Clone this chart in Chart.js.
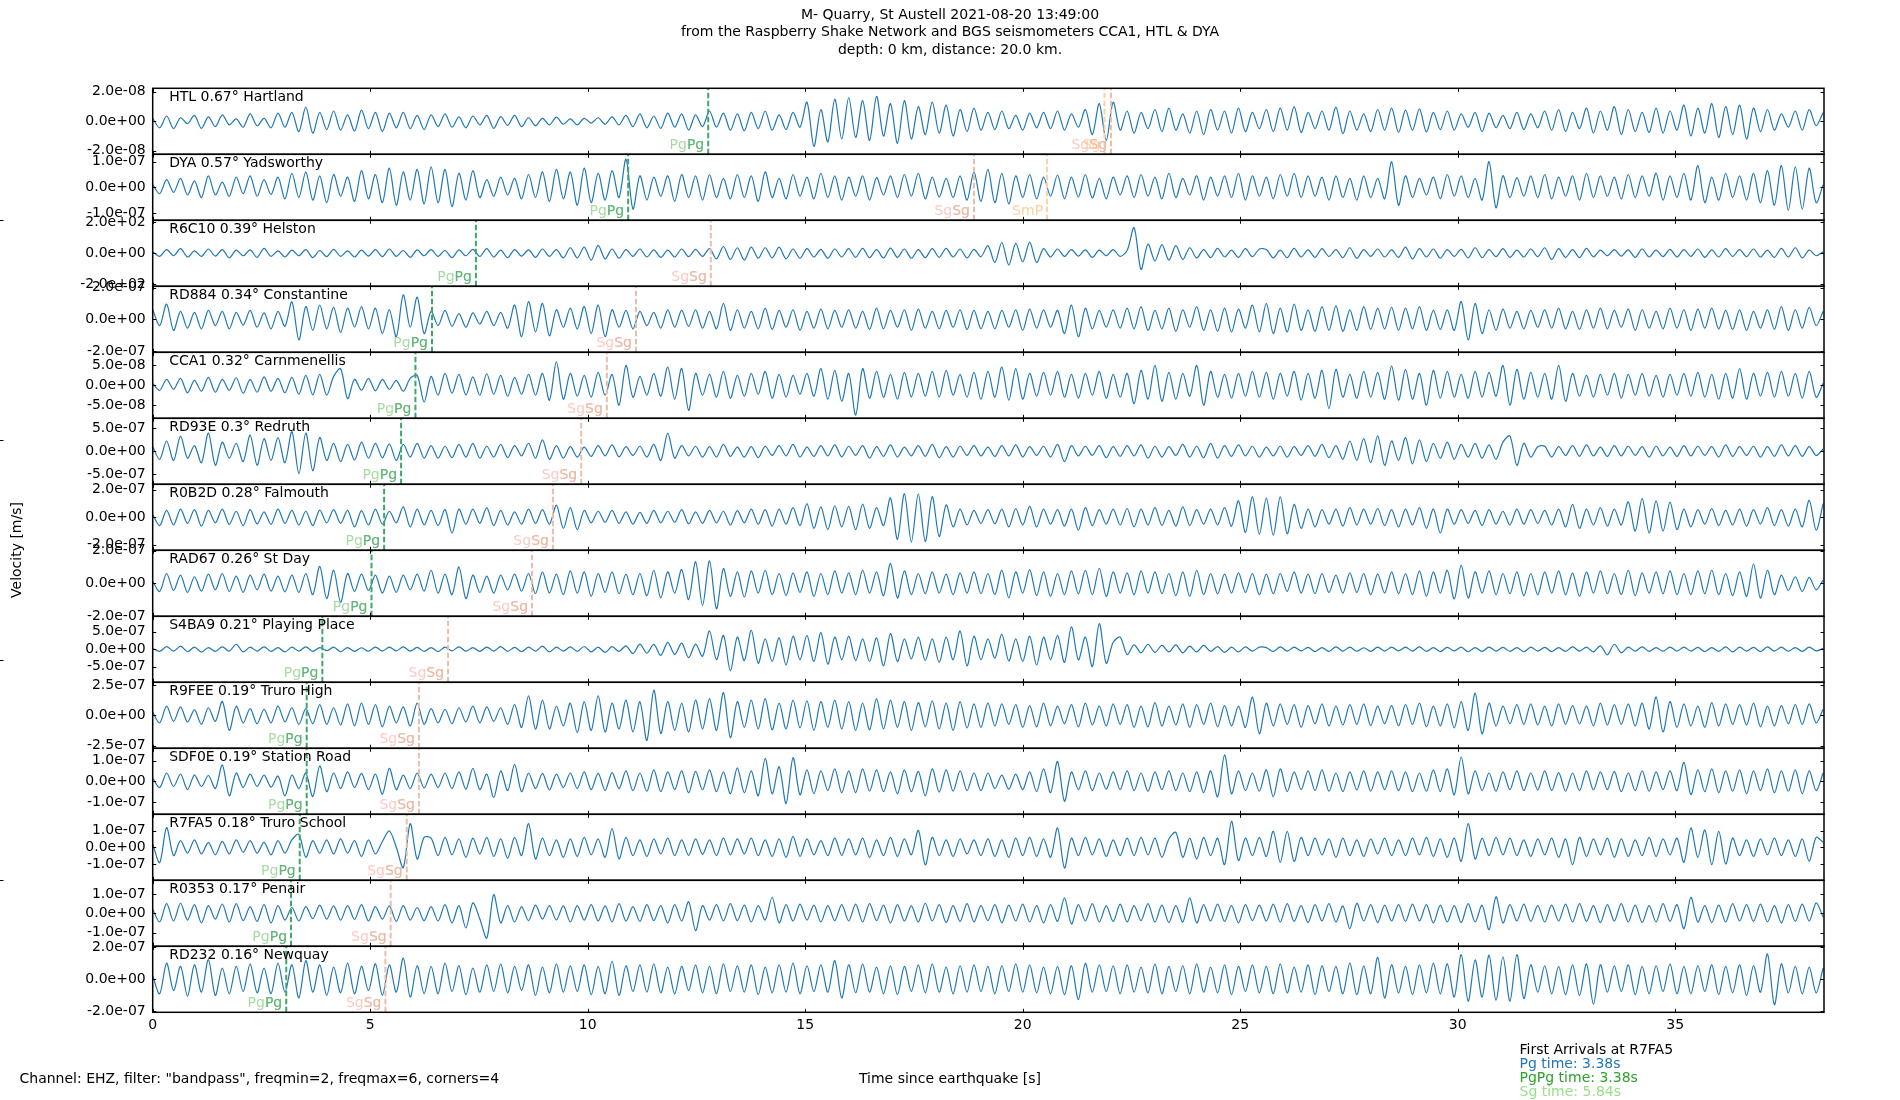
<!DOCTYPE html>
<html>
<head>
<meta charset="utf-8">
<title>M- Quarry, St Austell 2021-08-20 13:49:00</title>
<script src="https://cdn.jsdelivr.net/npm/chart.js@4.4.1/dist/chart.umd.min.js"></script>
<style>
    html, body { margin: 0; padding: 0; background: #fff; }
    #wrap { width: 1900px; height: 1100px; }
</style>
</head>
<body>
<div id="wrap"><canvas id="seismo" width="1900" height="1100"></canvas></div>
<script>
// sample step of the traces below, seconds
const DT = 0.16;
const X_MAX = 38.42;
const X_TICKS = [0, 5, 10, 15, 20, 25, 30, 35];

const stationLabels = [
    'HTL 0.67° Hartland', 'DYA 0.57° Yadsworthy', 'R6C10 0.39° Helston', 'RD884 0.34° Constantine',
    'CCA1 0.32° Carnmenellis', 'RD93E 0.3° Redruth', 'R0B2D 0.28° Falmouth', 'RAD67 0.26° St Day',
    'S4BA9 0.21° Playing Place', 'R9FEE 0.19° Truro High', 'SDF0E 0.19° Station Road',
    'R7FA5 0.18° Truro School', 'R0353 0.17° Penair', 'RD232 0.16° Newquay'
];
// the +/- tick of every panel, in m/s (R6C10 in counts)
const tickValues = [2e-8, 1e-7, 2e2, 2e-7, 5e-8, 5e-7, 2e-7, 2e-7, 5e-7, 2.5e-7, 1e-7, 1e-7, 1e-7, 2e-7];
// y limit of every panel, percent of its tick value
const yLimitPct = [112, 129, 107, 104, 166, 144, 120, 101, 189, 109, 159, 198, 171, 102.5];
const pgTimes = [12.77, 10.93, 7.43, 6.42, 6.04, 5.71, 5.32, 5.03, 3.90, 3.54, 3.54, 3.38, 3.18, 3.07];
const sgTimes = [22.03, 18.88, 12.83, 11.11, 10.44, 9.85, 9.20, 8.72, 6.79, 6.12, 6.12, 5.84, 5.47, 5.35];
// other picked phases: panel, time, label
const extraPanels = [0, 1];
const extraTimes = [21.88, 20.56];
const extraLabels = ['Sg', 'SmP'];

// traces, percent of the panel tick value, one value every DT seconds
const htl = [
    10,-22,18,-25,12,-8,20,-24,15,-18,22,-12,8,-20,25,-15,10,-22,28,-20,
    30,-35,48,-40,30,-28,35,-30,22,-33,38,-25,30,-35,28,-22,30,-25,20,-28,
    22,-18,25,-20,15,-22,18,-12,20,-24,16,-14,20,-18,12,-15,10,-12,14,-10,
    8,-12,10,-6,12,-10,15,-12,20,-18,25,-22,18,-24,28,-20,25,-30,22,-18,
    35,-20,28,-30,25,-32,30,-25,35,-30,22,-28,30,-20,65,-85,40,-70,75,-60,
    80,-55,70,-65,85,-50,60,-75,70,-60,50,-45,65,-40,55,-50,40,-35,45,-30,
    30,-28,35,-25,20,-30,28,-22,30,-25,35,-30,25,-20,40,-45,60,-65,65,-30,
    35,-40,30,-25,40,-35,45,-30,25,-40,35,-45,40,-30,35,-40,45,-35,30,-25,
    40,-35,45,-30,50,-38,30,-25,35,-30,48,-42,35,-30,25,-35,40,-30,45,-38,
    38,-30,42,-36,30,-28,35,-30,25,-20,30,-35,28,-22,20,-25,30,-28,25,-22,
    35,-30,40,-35,30,-25,45,-40,35,-30,50,-45,40,-35,30,-38,45,-40,35,-30,
    55,-50,45,-40,60,-55,50,-45,55,-60,45,-35,40,-30,25,-20,35,-30,40,-15,
    30
];
const dya = [
    10,-25,30,-20,35,-30,25,-40,45,-30,20,-35,40,-25,45,-35,30,-28,40,-45,
    55,-40,60,-50,45,-60,50,-35,40,-55,65,-45,50,-60,75,-70,60,-50,70,-65,
    80,-60,70,-75,55,-50,65,-40,30,-35,40,-30,35,-45,50,-40,60,-55,70,-45,
    60,-70,75,-60,55,-50,65,-40,110,-85,45,-50,40,-35,45,-55,50,-40,45,-50,
    50,-40,35,-45,50,-40,45,-55,60,-40,35,-45,50,-35,40,-45,55,-40,45,-50,
    40,-35,45,-50,38,-30,45,-40,50,-35,55,-45,40,-38,35,-40,45,-50,60,-55,
    70,-60,55,-65,45,-40,50,-45,40,-35,48,-45,40,-38,50,-42,35,-45,40,-30,
    45,-40,50,-35,40,-45,55,-40,35,-30,45,-50,40,-35,45,-40,55,-50,45,-35,
    40,-45,50,-35,55,-40,45,-35,40,-50,45,-40,35,-50,45,-40,35,-45,100,-70,
    45,-40,35,-30,40,-45,50,-35,45,-40,35,-50,100,-80,45,-40,38,-35,45,-40,
    50,-45,40,-35,45,-50,55,-40,45,-35,40,-45,50,-40,45,-35,55,-50,45,-40,
    55,-50,85,-60,40,-50,55,-40,45,-50,55,-60,65,-70,85,-90,80,-85,75,-60,
    10
];
const r6c10 = [
    5,-10,12,-8,15,-12,8,-10,14,-9,12,-15,10,-8,11,-13,16,-10,8,-12,
    10,-8,12,-14,9,-11,13,-10,8,-12,10,-9,12,-11,14,-10,9,-13,11,-8,
    12,-10,9,-14,11,-8,13,-10,15,-12,10,-14,12,-9,11,-13,14,-10,12,-15,
    18,-15,20,-22,26,-18,14,-16,12,-10,14,-12,11,-13,10,-12,14,-11,13,-10,
    15,-18,22,-20,18,-22,20,-16,18,-15,20,-18,14,-16,15,-12,13,-16,14,-12,
    15,-13,16,-14,12,-15,17,-13,14,-16,12,-14,15,-13,16,-12,14,-15,13,-11,
    25,-30,35,-38,32,-28,36,-30,15,-12,14,-10,12,-9,11,-13,10,-8,12,-10,
    9,83,-52,30,-25,28,-22,25,-20,18,-15,12,-14,16,-12,10,-13,15,-11,14,
    12,-15,10,-14,16,-12,11,-13,15,-10,12,-14,18,-16,12,-10,14,-12,11,-13,
    20,-18,15,-12,14,-16,12,-10,13,-15,18,-14,12,-11,15,-13,10,-12,14,-11,
    18,-20,15,-13,12,-14,16,-12,10,-8,12,-9,11,-13,14,-12,10,-11,13,-12,
    12,-10,14,-13,11,-12,15,-10,12,-11,14,-12,10,-13,16,-12,18,-15,10,-8,
    5
];
const rd884 = [
    30,-20,48,-35,25,-28,22,-30,28,-20,25,-30,22,-18,28,-25,20,-30,25,-22,
    55,-65,40,-35,45,-30,38,-42,35,-25,40,-30,35,-45,30,-55,77,-25,70,-45,
    25,-20,28,-22,18,-25,20,-15,25,-20,22,-28,45,-55,56,-40,50,-52,30,-25,
    35,-30,40,-45,45,-55,30,-25,28,-30,25,-20,22,-28,30,-25,28,-22,30,-28,
    25,-30,50,-35,30,-28,25,-30,35,-32,28,-25,30,-35,25,-28,32,-30,28,-25,
    30,-28,25,-32,35,-30,28,-25,30,-35,32,-28,25,-30,28,-25,30,-32,28,-30,
    25,-30,28,-25,30,-35,32,-28,30,-25,28,-45,45,-55,35,-30,28,-25,30,-28,
    35,-30,40,-35,28,-30,35,-38,30,-25,40,-35,30,-38,35,-40,32,-28,45,-40,
    50,-45,35,-40,48,-35,30,-38,40,-35,42,-38,30,-35,40,-32,35,-30,38,-35,
    35,-30,40,-35,28,-32,30,-35,56,-65,50,-45,30,-35,32,-28,25,-30,28,-25,
    30,-28,35,-30,25,-32,30,-28,35,-30,28,-25,32,-35,30,-28,25,-30,35,-28,
    30,-35,32,-28,35,-30,28,-32,30,-35,25,-28,30,-32,40,-35,30,-28,38,-20,
    25
];
const cca1 = [
    10,-25,30,-20,35,-38,25,-30,40,-35,30,-25,38,-40,30,-35,42,-30,35,-38,
    40,-45,50,-48,55,-50,45,84,-67,30,-25,35,-28,30,-20,25,-30,35,50,-84,
    45,-50,60,-40,55,-48,42,-50,58,-45,50,-55,40,-45,55,-50,60,-75,118,-70,
    60,-55,50,-60,65,-50,55,-100,100,-60,45,-50,60,-55,92,-70,85,-126,60,-50,
    55,-60,70,-65,50,-55,60,-45,70,-65,55,-60,50,-45,60,-55,84,-70,75,-80,
    60,-150,84,-65,70,-60,55,-70,65,-58,60,-55,70,-60,75,-50,55,-60,65,-70,
    70,-60,92,-75,84,-70,60,-55,65,-50,70,-60,55,-65,60,-50,70,-65,55,-60,
    60,-92,75,-70,100,-80,65,-70,60,-55,100,-100,70,-60,55,-65,60,-55,70,-60,
    65,-70,60,-55,70,-75,60,-65,75,-117,80,-60,55,-65,70,-60,65,-70,96,-75,
    80,-70,60,-100,75,-65,70,-60,55,-65,70,-60,65,-55,100,-100,80,-70,65,-60,
    60,-70,100,-80,60,-55,50,-60,55,-50,60,-65,55,-50,60,-55,50,-60,55,-50,
    60,-55,65,-60,55,-70,60,-65,84,-70,60,-55,65,-60,70,-55,60,-65,70,-60,
    10
];
const rd93e = [
    20,-35,45,-40,66,-30,25,-50,79,-61,40,-30,35,-45,71,-61,55,-40,60,-50,
    86,-97,80,-85,60,-40,35,-45,30,-38,40,-30,35,-28,32,-40,30,-25,35,-30,
    25,-30,22,-28,30,-25,35,-30,22,-25,30,-28,25,-20,35,-30,50,-35,25,-30,
    20,-25,18,-22,25,-20,28,-24,20,-18,22,-25,30,-40,79,-30,25,-20,22,-25,
    20,-25,30,-22,18,-25,20,-28,22,-18,25,-20,30,-25,18,-22,25,-20,28,-24,
    22,-18,25,-30,20,-22,28,-25,18,-20,25,-22,30,-28,20,-25,22,-18,25,-20,
    18,-22,25,-20,28,-24,20,-18,22,-25,30,-45,25,-20,22,-18,25,-28,20,-22,
    25,-20,28,-30,22,-25,20,-18,30,-25,22,-28,35,-30,25,-22,28,-20,22,-25,
    18,-20,22,-25,20,-18,25,-22,30,-28,25,-35,45,-40,55,-50,67,-61,45,-40,
    60,-55,50,-45,35,-30,40,-35,30,-25,35,-30,28,-35,40,67,-61,35,-25,20,
    22,-25,20,-18,25,-22,28,-20,18,-22,25,-20,22,-18,20,-25,22,-20,18,-22,
    25,-20,22,-18,20,-25,28,-22,20,-18,22,-25,20,-22,28,-20,25,-22,20,-18,
    10
];
const r0b2d = [
    10,-30,25,-28,30,-22,28,-32,25,-20,30,-26,22,-30,28,-24,20,-26,30,-22,
    25,-28,22,-30,26,-20,28,-22,25,-35,24,-28,30,-25,22,-20,38,-35,30,-28,
    25,-30,28,-57,30,-25,30,-22,35,-30,25,-28,20,-25,30,-22,28,-25,44,-40,
    35,-45,25,-20,22,-18,25,-22,20,-25,18,-22,25,-20,22,-18,28,-24,20,-22,
    25,-20,22,-28,24,-20,30,-25,28,-32,30,-25,35,-30,50,-40,38,-45,42,-35,
    40,-45,48,-40,35,-30,70,-80,86,-90,85,-88,75,-70,45,-35,30,-28,25,-22,
    28,-24,30,-35,32,-28,40,-35,30,-25,28,-32,30,-47,35,-30,28,-25,30,-28,
    32,-35,30,-28,35,-30,25,-32,38,-30,28,-25,30,-28,35,-32,60,-55,74,-62,
    70,-65,74,-60,47,-40,30,-35,28,-25,30,-32,35,-28,30,-25,32,-30,28,-35,
    30,-28,35,-40,30,-57,30,-25,28,-22,25,-30,28,-25,22,-28,30,-25,28,-22,
    25,-28,30,-35,47,-40,30,-28,35,-32,30,-28,56,-50,68,-57,60,-50,55,-45,
    30,-35,28,-25,32,-30,25,-28,30,-32,28,-25,35,-30,28,-32,30,-35,62,-47,
    50
];
const rad67 = [
    5,-25,30,-22,25,-28,20,-24,28,-20,30,-25,22,-28,25,-20,28,-24,22,-26,
    25,-28,30,-35,52,-47,40,-58,30,-25,28,-22,25,-30,22,-28,25,-20,28,-24,
    40,-30,28,-35,50,-47,25,-28,22,-30,25,-20,28,-24,30,-32,35,-30,28,-35,
    38,-30,35,-40,30,-28,35,-32,28,-35,30,-38,40,-45,35,-30,42,-50,66,-68,
    69,-78,45,-40,35,-42,38,-30,40,-35,30,-38,32,-28,35,-40,30,-35,38,-30,
    32,-35,40,-30,35,-38,61,-45,38,-35,30,-32,35,-30,28,-35,32,-30,35,-32,
    30,-35,40,-45,35,-30,42,-38,35,-40,30,-35,38,-32,40,-35,46,-40,35,-30,
    32,-35,38,-30,35,-32,30,-38,35,-40,40,-35,30,-32,28,-30,32,-28,30,-35,
    28,-32,30,-25,35,-30,28,-32,30,-28,25,-30,32,-28,30,-35,28,-30,35,-32,
    30,-35,38,-40,35,-30,40,-48,55,-45,35,-30,38,-35,30,-32,35,-38,30,-35,
    35,-30,38,-35,32,-40,35,-30,38,-32,30,-35,40,-38,32,-30,35,-32,38,-35,
    30,-35,38,-32,40,-35,30,-38,35,-40,59,-45,40,-35,25,-22,20,-25,18,-20,
    10
];
const s4ba9 = [
    5,-12,15,-10,18,-14,12,-16,10,-12,14,-10,29,-15,12,-10,14,-12,10,-15,
    12,-10,14,-12,10,-8,12,-14,10,-12,9,-11,13,-10,12,-9,14,-10,11,-12,
    10,-13,12,-9,14,-11,10,-12,13,-10,15,-12,11,-14,12,-10,18,-15,12,-10,
    14,-12,16,-15,13,-18,15,-12,20,-25,30,-22,28,-35,40,-30,35,-48,30,-40,
    105,-60,80,-124,70,-65,109,-80,60,-70,65,-90,75,-60,80,-70,95,-85,70,-60,
    75,-65,60,-70,65,-95,90,-70,60,-55,70,-65,60,-75,70,-60,105,-95,75,-60,
    60,-50,86,-67,60,-70,75,-90,70,-60,80,-75,128,-60,70,-99,147,-80,40,70,
    -30,25,-20,29,-18,22,-15,25,-20,18,-15,22,-12,15,-18,12,-15,14,-10,12,
    10,-12,14,-10,12,-9,11,-13,10,-12,14,-10,12,-11,9,-12,13,-10,12,-9,
    12,-10,14,-12,10,-13,11,-9,12,-14,10,-12,13,-10,11,-12,10,-14,12,-10,
    11,-13,10,-12,14,-10,12,-15,20,-32,29,-20,12,-10,14,-12,10,-11,13,-10,
    12,-10,11,-13,10,-12,14,-15,12,-10,11,-13,14,-10,12,-11,10,-12,13,-9,
    5
];
const r9fee = [
    10,-25,30,-20,28,-22,18,-30,25,-20,46,-50,30,-25,22,-28,20,-25,30,-22,
    25,-30,22,-28,35,-30,25,-32,38,-35,40,-30,35,-38,30,-25,28,-35,40,-30,
    22,-25,20,-28,25,-22,30,-25,28,-20,25,-30,35,-40,64,-46,50,-45,30,-35,
    40,-57,45,-50,64,-55,40,-45,50,-55,45,-83,83,-60,45,-50,40,-55,50,-45,
    55,-50,75,-74,45,-40,50,-45,55,-48,40,-45,50,-42,48,-50,45,-40,50,-45,
    45,-50,40,-48,55,-45,50,-40,45,-50,42,-38,48,-45,40,-50,45,-42,38,-40,
    40,-35,38,-30,35,-40,32,-38,40,-35,30,-28,35,-38,40,-32,30,-35,38,-30,
    35,-40,30,-38,42,-35,30,-32,38,-40,35,-30,40,-38,32,-35,30,-40,60,-61,
    40,-35,38,-30,35,-40,32,-28,38,-35,30,-32,35,-30,38,-34,30,-28,32,-35,
    35,-30,40,-38,30,-35,38,-42,45,-50,73,-61,40,-35,30,-28,35,-30,38,-32,
    30,-35,38,-30,32,-28,30,-35,40,-32,35,-30,38,-35,40,-45,61,-55,45,-40,
    38,-35,30,-40,42,-35,38,-30,35,-32,40,-38,30,-35,32,-28,35,-30,38,-25,
    20
];
const sdf0e = [
    15,-30,40,-25,35,-40,30,-25,28,-35,78,-70,40,-30,35,-25,30,-28,25,-70,
    30,-35,40,-74,74,-50,40,-35,45,-30,38,-40,35,-62,62,-40,30,-35,40,-32,
    35,-30,40,-35,45,-38,62,-40,35,-78,50,-45,82,-50,40,-35,38,-42,35,-30,
    40,-35,45,-40,38,-45,42,-35,50,-45,40,-48,55,-50,45,-40,50,-55,48,-42,
    55,-50,45,-60,65,-55,50,-70,110,-60,70,-107,114,-65,55,-60,50,-45,60,-55,
    50,-55,60,-48,55,-50,45,-60,55,-50,48,-70,60,-52,55,-48,50,-45,40,-45,
    40,-35,30,-38,35,-40,45,-50,60,-55,96,-96,45,-40,50,-45,40,-38,45,-40,
    50,-45,40,-48,45,-40,50,-45,40,-50,45,-55,50,-75,128,-60,50,-45,40,-48,
    55,-75,60,-50,45,-40,50,-45,55,-48,40,-50,45,-42,50,-48,45,-40,50,-45,
    45,-50,40,-48,55,-50,60,-65,117,-60,50,-45,40,-48,45,-40,50,-45,40,-42,
    50,-45,42,-48,40,-45,50,-42,45,-40,48,-50,40,-45,50,-48,45,-40,50,-45,
    91,-64,55,-50,60,-55,50,-48,55,-60,50,-45,60,-55,50,-48,55,-60,50,-45,
    40
];
const r7fa5 = [
    20,-92,118,-50,40,-35,45,-40,30,-45,35,-40,45,-30,40,-35,30,-45,40,-35,
    45,78,-60,40,-35,45,-40,50,-35,40,-55,45,-40,35,98,0,-122,142,-70,60,
    55,-50,60,-45,50,-60,55,-40,60,-55,50,-65,60,-50,142,-70,55,-50,45,-60,
    50,-55,60,-45,50,-60,112,-70,60,-50,45,-55,50,-40,55,-50,45,-48,50,-42,
    45,-50,55,-45,50,-40,55,-50,45,-55,50,-60,65,-55,50,-45,40,-50,55,-48,
    50,-45,55,-60,45,-50,60,-55,50,-45,102,-106,60,-50,45,-55,50,-40,45,-50,
    50,-55,45,-60,55,-50,60,-55,50,-60,116,-124,55,-50,60,-45,50,-55,45,-50,
    55,-50,60,-45,55,-60,50,90,-60,55,-70,60,-50,55,-104,156,-80,55,-50,60,
    -55,96,-90,96,-85,60,-50,55,-45,50,-60,55,-50,45,-55,50,-40,55,-50,45,
    -50,55,-45,60,-55,50,-60,55,-84,142,-70,55,-50,60,-45,55,-50,45,-55,50,
    -45,55,-60,50,-104,60,-55,50,-45,55,-60,50,-55,45,-50,60,-55,50,-45,55,
    -90,116,-60,104,-104,96,-100,55,-50,45,-55,50,-45,55,-50,45,-55,50,-84,60,
    30
];
const r0353 = [
    20,-45,50,-40,52,-35,45,-50,40,-30,48,-45,50,-38,35,-42,45,-50,40,-35,
    30,-40,35,-28,42,-30,38,-35,40,-32,45,-40,35,-30,38,-42,40,-35,30,-38,
    35,-40,45,-50,40,-76,54,-30,-128,97,-50,40,-45,35,-38,42,-30,40,-35,38,
    -45,40,-35,45,-40,38,-45,50,-40,35,-42,45,-38,40,-50,45,-40,60,-90,40,
    -35,45,-40,50,-38,42,-45,40,-35,83,-50,45,-40,48,-35,42,-45,40,-38,45,
    -40,48,-45,50,-38,42,-50,45,-40,38,-45,52,-40,45,-48,40,-42,50,-45,40,
    -38,45,-50,42,-40,48,-45,40,-50,45,-42,80,-55,45,-40,50,-45,38,-42,48,
    -45,40,-38,50,-45,42,-48,40,-45,80,-50,45,-40,48,-42,40,-50,45,-38,42,
    -40,48,-45,50,-42,40,-48,45,-40,50,-45,38,-80,52,-40,45,-48,42,-40,45,
    -42,48,-40,45,-50,42,-45,40,-48,50,-45,42,-85,85,-50,45,-40,48,-42,40,
    -45,42,-40,48,-45,50,-42,40,-48,45,-40,50,-45,42,-48,40,-45,50,-42,45,
    -80,83,-45,40,-48,42,-45,50,-40,45,-42,48,-45,40,-50,45,-42,48,-40,54,
    -20
];
const rd232 = [
    10,-45,50,-35,40,-52,45,-40,61,-50,35,-45,40,-38,48,-42,35,-45,50,-40,
    45,-58,58,-40,45,-50,38,-42,50,-45,40,-35,48,-50,45,-40,66,-55,42,-45,
    40,-45,50,-38,42,-48,35,-40,45,-38,48,-42,40,-35,45,-50,38,-42,48,-40,
    42,-38,45,-48,40,-45,56,-50,42,-38,45,-40,48,-42,38,-45,40,-35,45,-42,
    40,-45,48,-38,42,-40,45,-48,38,-42,45,-40,50,-45,42,-38,45,-40,58,-58,
    45,-42,48,-40,38,-45,42,-48,40,-38,45,-42,48,-40,38,-45,42,-40,45,-38,
    40,-45,42,-38,48,-40,45,-42,38,-45,40,-48,42,-63,50,-40,45,-38,42,-45,
    45,-40,38,-42,48,-45,40,-38,42,-45,48,-40,38,-42,45,-48,40,-38,45,-42,
    40,-45,48,-42,38,-40,45,-48,42,-38,40,-45,50,-48,42,-45,68,-58,45,-42,
    40,-48,45,-42,50,-45,48,-55,77,-68,60,-55,75,-65,70,-68,77,-60,45,-40,
    42,-45,40,-48,45,-50,48,-77,45,-40,42,-38,45,-48,40,-45,42,-38,48,-45,
    40,-45,42,-38,45,-48,40,-42,45,-50,42,-40,79,-79,48,-42,40,-45,38,-42,
    35
];
const traces = [htl, dya, r6c10, rd884, cca1, rd93e, r0b2d, rad67, s4ba9, r9fee, sdf0e, r7fa5, r0353, rd232];

const titleLines = [
    'M- Quarry, St Austell 2021-08-20 13:49:00',
    'from the Raspberry Shake Network and BGS seismometers CCA1, HTL & DYA',
    'depth: 0 km, distance: 20.0 km.'
];
const arrivalLines = ['First Arrivals at R7FA5', 'Pg time: 3.38s', 'PgPg time: 3.38s', 'Sg time: 5.84s'];
const arrivalColors = ['#000000', '#1f77b4', '#2ca02c', '#98df8a'];

const FONT = '14px "DejaVu Sans"';
const AXIS_LEFT = 152.7;
const TRACE_COLOR = '#1f77b4';
const PG_LINE = '#3fa66a';
const SG_LINE = '#eabda7';
const EXTRA_LINE = '#fdd0a2';

Chart.defaults.font.family = '"DejaVu Sans"';
Chart.defaults.font.size = 14;
Chart.defaults.color = '#000';

function sci(v) {
    if (Math.abs(v) < 1e-30) return '0.0e+00';
    var parts = v.toExponential(1).split('e');
    var sign = parts[1][0] === '-' ? '-' : '+';
    var digits = parts[1].replace(/[+-]/, '');
    if (digits.length < 2) digits = '0' + digits;
    return parts[0] + 'e' + sign + digits;
}

function limitOf(k) {
    return yLimitPct[k] / 100 * tickValues[k];
}

function dashedAt(t, k, color) {
    return {
        data: [{x: t, y: -limitOf(k)}, {x: t, y: limitOf(k)}],
        yAxisID: 'y' + k,
        borderColor: color,
        borderWidth: 2,
        borderDash: [5.5, 2.5],
        pointRadius: 0,
        order: 1
    };
}

var datasets = [];
var scales = {};

traces.forEach(function (trace, k) {
    datasets.push({
        data: trace.map(function (v, i) { return {x: i * DT, y: v / 100 * tickValues[k]}; }),
        yAxisID: 'y' + k,
        borderColor: TRACE_COLOR,
        borderWidth: 1.2,
        pointRadius: 0,
        tension: 0.3,
        order: 2
    });
    datasets.push(dashedAt(pgTimes[k], k, PG_LINE));
    datasets.push(dashedAt(sgTimes[k], k, SG_LINE));
});

// stacked left axes are laid out last-defined on top, so define from the bottom panel up
for (var k = traces.length - 1; k >= 0; k--) {
    (function (k) {
        scales['y' + k] = {
            type: 'linear',
            position: 'left',
            stack: 'stations',
            stackWeight: 1,
            min: -limitOf(k),
            max: limitOf(k),
            grid: {display: false, drawTicks: false},
            border: {display: false},
            ticks: {
                padding: 7, color: '#000', font: {size: 14}, autoSkip: false,
                callback: function (v) { return sci(v); }
            },
            afterBuildTicks: function (s) {
                s.ticks = [{value: -tickValues[k]}, {value: 0}, {value: tickValues[k]}];
            },
            afterFit: function (s) { s.width = AXIS_LEFT; }
        };
    })(k);
}

extraPanels.forEach(function (k, j) {
    datasets.push(dashedAt(extraTimes[j], k, EXTRA_LINE));
});

scales.x = {
    type: 'linear',
    position: 'bottom',
    min: 0,
    max: X_MAX,
    grid: {display: false, drawTicks: false},
    border: {display: false},
    ticks: {padding: 5, color: '#000', font: {size: 14}, autoSkip: false, callback: function (v) { return String(v); }},
    afterBuildTicks: function (s) {
        s.ticks = X_TICKS.map(function (v) { return {value: v}; });
    },
    afterFit: function (s) { s.height = 30; }
};

// frames, inward ticks, station names and phase labels
var panelDecor = {
    id: 'panelDecor',
    afterDatasetsDraw: function (chart) {
        var ctx = chart.ctx;
        var xs = chart.scales.x;
        var left = chart.chartArea.left, right = chart.chartArea.right;
        ctx.save();
        ctx.font = FONT;

        traces.forEach(function (trace, k) {
            var ys = chart.scales['y' + k];
            var top = ys.top, bottom = ys.bottom;

            // phase labels, right aligned against their line
            ctx.textAlign = 'right';
            ctx.textBaseline = 'alphabetic';
            var xp = xs.getPixelForValue(pgTimes[k]) - 4;
            ctx.fillStyle = '#a8dba2';
            ctx.fillText('PgPg', xp, bottom - 5);
            ctx.fillStyle = '#62b57c';
            ctx.fillText('Pg', xp, bottom - 5);
            var xsg = xs.getPixelForValue(sgTimes[k]) - 4;
            ctx.fillStyle = '#fcc9c4';
            ctx.fillText('SgSg', xsg, bottom - 5);
            ctx.fillStyle = '#ebbaa4';
            ctx.fillText('Sg', xsg, bottom - 5);
            extraPanels.forEach(function (p, j) {
                if (p !== k) return;
                ctx.fillStyle = EXTRA_LINE;
                ctx.fillText(extraLabels[j], xs.getPixelForValue(extraTimes[j]) - 4, bottom - 5);
            });

            // station name
            ctx.textAlign = 'left';
            ctx.textBaseline = 'middle';
            ctx.fillStyle = '#000';
            ctx.fillText(stationLabels[k], left + 16.5, top + 9.5);

            // inward ticks on all four sides
            ctx.strokeStyle = '#000';
            ctx.lineWidth = 1;
            ctx.beginPath();
            X_TICKS.forEach(function (t) {
                var px = Math.round(xs.getPixelForValue(t)) + 0.5;
                ctx.moveTo(px, top); ctx.lineTo(px, top + 3.5);
                ctx.moveTo(px, bottom); ctx.lineTo(px, bottom - 3.5);
            });
            [-tickValues[k], 0, tickValues[k]].forEach(function (v) {
                var py = Math.round(ys.getPixelForValue(v)) + 0.5;
                ctx.moveTo(left, py); ctx.lineTo(left + 3.5, py);
                ctx.moveTo(right, py); ctx.lineTo(right - 3.5, py);
            });
            ctx.stroke();

            ctx.lineWidth = 1.5;
            ctx.strokeRect(left, top, right - left, bottom - top);
        });
        ctx.restore();
    },
    afterDraw: function (chart) {
        var ctx = chart.ctx;
        ctx.save();
        ctx.font = FONT;
        ctx.fillStyle = '#000';
        ctx.textBaseline = 'middle';

        ctx.textAlign = 'center';
        titleLines.forEach(function (line, i) {
            ctx.fillText(line, 950, 15.5 + i * 17.2);
        });
        ctx.fillText('Time since earthquake [s]', 950, 1079);

        ctx.textAlign = 'left';
        ctx.fillText('Channel: EHZ, filter: "bandpass", freqmin=2, freqmax=6, corners=4', 19.5, 1079);
        arrivalLines.forEach(function (line, i) {
            ctx.fillStyle = arrivalColors[i];
            ctx.fillText(line, 1519.5, 1050.5 + i * 14);
        });

        ctx.fillStyle = '#000';
        ctx.translate(17, 550);
        ctx.rotate(-Math.PI / 2);
        ctx.textAlign = 'center';
        ctx.fillText('Velocity [m/s]', 0, 0);
        ctx.setTransform(1, 0, 0, 1, 0, 0);

        // small marks of the hidden figure axis at the left edge
        ctx.strokeStyle = '#000';
        ctx.lineWidth = 1;
        ctx.beginPath();
        [220, 440, 660, 880].forEach(function (y) {
            ctx.moveTo(0, y + 0.5); ctx.lineTo(3.5, y + 0.5);
        });
        ctx.stroke();
        ctx.restore();
    }
};

new Chart(document.getElementById('seismo').getContext('2d'), {
    type: 'line',
    data: {datasets: datasets},
    options: {
        responsive: false,
        animation: false,
        devicePixelRatio: 1,
        layout: {padding: {left: 0, right: 76, top: 88.3, bottom: 57.7}},
        plugins: {legend: {display: false}, tooltip: {enabled: false}},
        scales: scales
    },
    plugins: [panelDecor]
});
</script>
</body>
</html>
